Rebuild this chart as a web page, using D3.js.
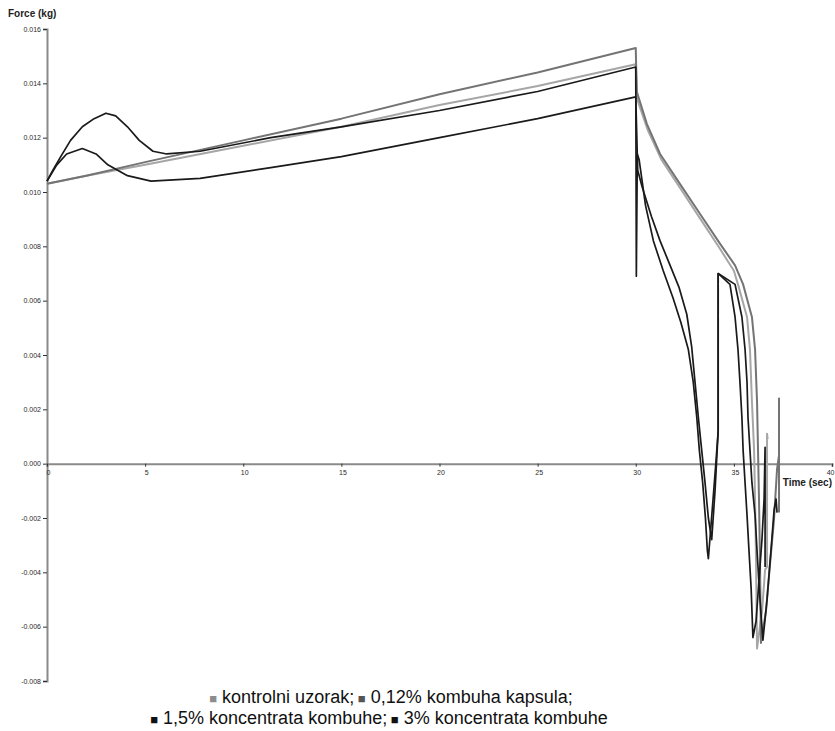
<!DOCTYPE html>
<html><head><meta charset="utf-8">
<script src="https://cdn.jsdelivr.net/npm/d3@7"></script>
<style>body{margin:0;background:#fff}</style>
</head><body>
<svg id="c" width="835" height="731"></svg>
<script>
// ---- data ----
const xTicks = [0, 5, 10, 15, 20, 25, 30, 35, 40];
const yTicks = [-0.008, -0.006, -0.004, -0.002, 0.000, 0.002, 0.004, 0.006, 0.008, 0.010, 0.012, 0.014, 0.016];
const seriesNames = ["kontrolni uzorak", "0,12% kombuha kapsula", "1,5% koncentrata kombuhe", "3% koncentrata kombuhe"];
const legendColors = ["#8c8c8c", "#555555", "#111111", "#111111"];
const lineColors = ["#a6a6a6", "#747474", "#1a1a1a", "#1a1a1a"];

// [time (sec), force (kg)]
const kontrolni = [[0,0.0103],[2,0.0106],[5,0.0110],[10,0.0117],[15,0.0124],[20,0.0132],[25,0.0139],[30,0.0147],
  [30.08,0.0134],[30.6,0.0123],[31.3,0.0112],[32.3,0.0101],[33.3,0.0090],[34.3,0.0079],[35.0,0.0071],[35.21,0.0066],
  [35.67,0.0054],[35.82,0.0042],[35.92,0.0023],[36.03,0.0005],[36.08,-0.0013],[36.13,-0.0036],[36.18,-0.0068],
  [36.44,-0.0054],[36.59,-0.0039],[36.69,-0.0038],[36.69,0.0011],[36.72,0.0009]];
const kapsula = [[0,0.0103],[2,0.0106],[5,0.0111],[10,0.0119],[15,0.0127],[20,0.0136],[25,0.0144],[30,0.0153],
  [30.05,0.0137],[30.57,0.0125],[31.24,0.0114],[32.25,0.0103],[33.27,0.0092],[34.29,0.0081],[35.06,0.0073],[35.47,0.0066],
  [35.92,0.0054],[36.08,0.0042],[36.18,0.0023],[36.23,0.0005],[36.28,-0.0013],[36.33,-0.0035],[36.38,-0.0066],
  [36.64,-0.0054],[36.84,-0.0037],[37.04,-0.0021],[37.2,-0.0002],[37.3,0.0003],[37.3,0.0024],[37.3,-0.0018]];
const konc15 = [[0,0.0104],[0.3,0.0108],[0.7,0.0113],[1.2,0.0119],[1.8,0.0124],[2.4,0.0127],[3.0,0.0129],[3.5,0.0128],
  [4.1,0.0124],[4.7,0.0119],[5.4,0.0115],[6.1,0.0114],[7.8,0.0115],[11.4,0.0120],[15,0.0124],[20,0.0130],[25,0.0137],[30,0.0146],
  [30.03,0.0069],[30.08,0.0114],[30.17,0.0112],[30.5,0.0095],[30.9,0.0082],[31.4,0.0071],[31.9,0.0061],[32.3,0.0052],[32.68,0.0042],
  [32.93,0.0030],[33.11,0.0017],[33.24,0.0005],[33.41,-0.0007],[33.55,-0.0020],[33.65,-0.0032],[33.70,-0.0035],
  [33.94,-0.0013],[34.1,0.0002],[34.2,0.0012],[34.2,0.0070],[34.8,0.0066],[35.06,0.0054],[35.21,0.0042],[35.31,0.0030],
  [35.41,0.0017],[35.47,0.0005],[35.57,-0.0007],[35.67,-0.0019],[35.77,-0.0032],[35.88,-0.0046],[35.97,-0.0064],
  [36.13,-0.0058],[36.28,-0.0043],[36.43,-0.0028],[36.54,-0.0013],[36.59,0.0006],[36.59,-0.0038]];
const konc3 = [[0,0.0104],[0.5,0.0110],[1.0,0.0114],[1.8,0.0116],[2.5,0.0114],[3.1,0.0110],[4.1,0.0106],[5.3,0.0104],
  [7.8,0.0105],[11.4,0.0109],[15,0.0113],[20,0.0120],[25,0.0127],[30,0.0135],
  [30.1,0.0108],[30.32,0.0102],[30.8,0.0091],[31.24,0.0082],[31.75,0.0073],[32.2,0.0065],[32.6,0.0055],[32.85,0.0043],[33.02,0.0030],
  [33.19,0.0017],[33.36,0.0005],[33.53,-0.0007],[33.7,-0.0020],[33.87,-0.0028],[34.04,-0.0010],[34.2,0.0012],[34.2,0.0070],
  [35.06,0.0066],[35.41,0.0054],[35.57,0.0042],[35.67,0.0030],[35.72,0.0017],[35.82,0.0005],[35.92,-0.0007],
  [36.08,-0.0019],[36.18,-0.0032],[36.33,-0.0050],[36.48,-0.0065],[36.69,-0.0050],[36.89,-0.0032],[37.05,-0.0017],
  [37.15,-0.0013],[37.2,-0.0018]];
const allSeries = [kontrolni, kapsula, konc15, konc3];

// ---- chart ----
const svg = d3.select("#c");
const x = d3.scaleLinear().domain([0, 40]).range([47, 832]);
const y = d3.scaleLinear().domain([-0.008, 0.016]).range([681, 29]);
const axisColor = "#8a8a8a";
const fmt = d => d3.format(".3f")(d).replace("\u2212", "-");
const font = "Liberation Sans, Arial, sans-serif";

const yAxis = svg.append("g").attr("transform", `translate(${x(0)},0)`)
  .call(d3.axisLeft(y).tickValues(yTicks).tickFormat(fmt).tickSize(4).tickPadding(2));
yAxis.select(".domain").attr("stroke", axisColor).attr("stroke-width", 2);
yAxis.selectAll(".tick line").attr("stroke", "#333");
yAxis.selectAll(".tick text").attr("font-family", font).attr("font-size", 7).attr("fill", "#2a2a2a");

const xAxis = svg.append("g").attr("transform", `translate(0,${y(0)})`)
  .call(d3.axisBottom(x).tickValues(xTicks).tickFormat(d3.format("d")).tickSize(3).tickPadding(3));
xAxis.select(".domain").attr("stroke", axisColor).attr("stroke-width", 2);
xAxis.selectAll(".tick line").attr("stroke", "#333");
xAxis.selectAll(".tick text").attr("font-family", font).attr("font-size", 7).attr("fill", "#2a2a2a").attr("dx", 1)
  .filter(d => d === 40).attr("text-anchor", "end").attr("dx", 2);

const line = d3.line().x(d => x(d[0])).y(d => y(d[1]));
allSeries.forEach((s, i) => {
  svg.append("path").datum(s).attr("d", line).attr("fill", "none")
    .attr("stroke", lineColors[i]).attr("stroke-width", i < 2 ? 2 : 1.7).attr("stroke-linejoin", "round");
});

svg.append("text").attr("x", 8).attr("y", 17).text("Force (kg)")
  .attr("font-family", font).attr("font-size", 10).attr("font-weight", "bold").attr("fill", "#222");
svg.append("text").attr("x", 832).attr("y", 486).attr("text-anchor", "end").text("Time (sec)")
  .attr("font-family", font).attr("font-size", 10).attr("font-weight", "bold").attr("fill", "#222");

// legend
const legendLines = [[0, 1], [2, 3]];
const legendY = [703, 724];
const legendX = [391, 379];
legendLines.forEach((idx, li) => {
  const t = svg.append("text").attr("x", legendX[li]).attr("y", legendY[li]).attr("text-anchor", "middle")
    .attr("font-family", font).attr("font-size", 18).attr("fill", "#111");
  idx.forEach((k, j) => {
    t.append("tspan").attr("fill", legendColors[k]).attr("font-size", 13).text((j > 0 ? " " : "") + "\u25A0");
    t.append("tspan").text(" " + seriesNames[k] + (li === 0 || j === 0 ? ";" : ""));
  });
});
</script>
</body></html>
